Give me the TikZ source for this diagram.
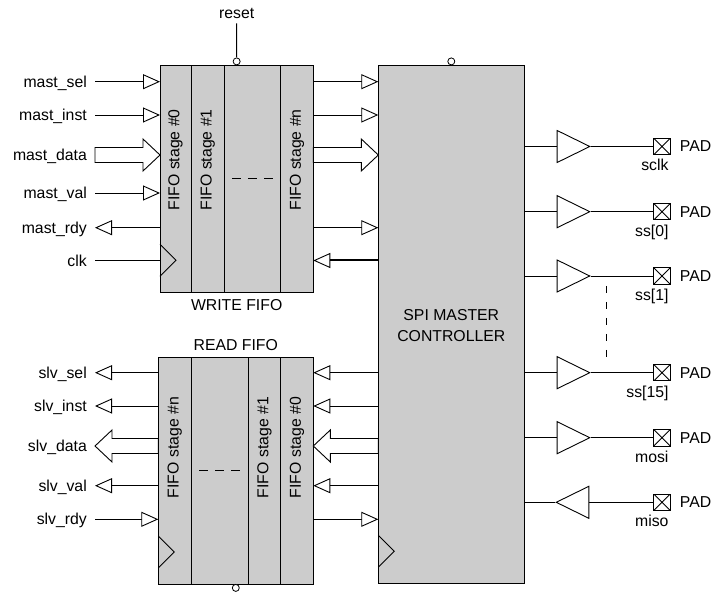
\documentclass[tikz,border=0pt]{standalone}
\usepackage{fontspec}
\setmainfont{Liberation Sans}
\usetikzlibrary{positioning,calc,arrows.meta,shapes.geometric}

% wide bus arrow from tail #1 to tip #2 (horizontal)
\newcommand\bus[2]{%
  \draw[wire, fill=white] let \p1=(#1), \p2=(#2), \n1={17*(\x2-\x1)/abs(\x2-\x1)} in
    (\x1,{\y1+7.5pt}) -- ({\x2-(\n1)*1pt},{\y1+7.5pt}) -- ({\x2-(\n1)*1pt},{\y1+16pt})
    -- (\x2,\y1) -- ({\x2-(\n1)*1pt},{\y1-16pt}) -- ({\x2-(\n1)*1pt},{\y1-7.5pt})
    -- (\x1,{\y1-7.5pt}) -- cycle;}
% clock mark in a lower left corner
\newcommand\clock[1]{\draw[wire] (#1) ++(0,-48) -- ++(16,16) -- ++(-16,16);}

\begin{document}
\begin{tikzpicture}[x=1pt, y=-1pt,
        every node/.style={font=\fontsize{15.8}{21}\selectfont},
        wire/.style={line width=0.9pt},
        >={Triangle[length=17pt,width=15pt,fill=white,line width=0.9pt]},
        stage/.style={draw, fill=black!20, line width=0.9pt, inner sep=0pt, outer sep=0pt},
        sig/.style={anchor=east, inner xsep=8pt, inner ysep=0pt, text height=11.3pt, text depth=0pt},
        txt/.style={inner sep=2pt},
        bubble/.style={circle, draw, fill=white, line width=0.8pt, minimum size=7pt, inner sep=0pt},
        buf/.style={isosceles triangle, isosceles triangle stretches, draw, fill=white, line width=0.9pt,
            minimum width=32pt, minimum height=32.6pt, inner sep=0pt},
        pad/.style={draw, line width=0.9pt, minimum size=16.5pt, inner sep=0pt, anchor=west,
            path picture={\draw (path picture bounding box.north west) -- (path picture bounding box.south east)
                (path picture bounding box.south west) -- (path picture bounding box.north east);}},
        dots/.style={wire, dash pattern=on 8.3pt off 7.7pt},
    ]
    \useasboundingbox (0,0) rectangle (728,593);

    % write fifo
    \node[stage, minimum width=31pt, minimum height=227pt, anchor=north west] (w0) at (160,65.3) {};
    \node[stage, minimum width=33.3pt, minimum height=227pt, right=0pt of w0] (w1) {};
    \node[stage, minimum width=56.4pt, minimum height=227pt, right=0pt of w1] (wd) {};
    \node[stage, minimum width=32.6pt, minimum height=227pt, right=0pt of wd] (wn) {};
    \node[rotate=90] at ([yshift=19pt]w0.center) {FIFO stage \#0};
    \node[rotate=90] at ([yshift=19pt]w1.center) {FIFO stage \#1};
    \node[rotate=90] at ([yshift=19pt]wn.center) {FIFO stage \#n};
    \draw[dots] ([xshift=-20.3pt]wd.center) -- ([xshift=20.3pt]wd.center);
    \node[txt, below=5pt] (wlbl) at ($(w0.south west)!0.5!(wn.south east)$) {WRITE FIFO};
    \node[bubble, anchor=south] (wrb) at ($(w0.north west)!0.5!(wn.north east)$) {};
    \node[txt] (rst) at (236.7,13) {reset};
    \draw[wire, shorten <=3pt] (rst) -- (wrb);
    \clock{w0.south west}

    % read fifo
    \node[stage, minimum width=32.7pt, minimum height=226.7pt, anchor=north west] (rn) at (158.3,357.3) {};
    \node[stage, minimum width=57.3pt, minimum height=226.7pt, right=0pt of rn] (rd) {};
    \node[stage, minimum width=32.4pt, minimum height=226.7pt, right=0pt of rd] (r1) {};
    \node[stage, minimum width=32.6pt, minimum height=226.7pt, right=0pt of r1] (r0) {};
    \node[rotate=90] at ([yshift=23pt]rn.center) {FIFO stage \#n};
    \node[rotate=90] at ([yshift=23pt]r1.center) {FIFO stage \#1};
    \node[rotate=90] at ([yshift=23pt]r0.center) {FIFO stage \#0};
    \draw[dots] ([xshift=-20.3pt]rd.center) -- ([xshift=20.3pt]rd.center);
    \node[txt, above=4pt] (rlbl) at ($(rn.north west)!0.5!(r0.north east)$) {READ FIFO};
    \node[bubble, anchor=north] (rdb) at ($(rn.south west)!0.5!(r0.south east)$) {};
    \clock{rn.south west}

    % controller
    \node[stage, minimum width=146pt, minimum height=518pt, anchor=north west] (ctrl) at (378.3,65.3) {};
    \node[align=center] (ctrltxt) at (451.3,325.5) {SPI MASTER\\CONTROLLER};
    \node[bubble, anchor=south] (cb) at (ctrl.north) {};
    \clock{ctrl.south west}

    % master side signals
    \node[sig] (msel) at (95,81.7) {mast\_sel};
    \node[sig] (minst) at (95,115) {mast\_inst};
    \node[sig] (mdat) at (95,155) {mast\_data};
    \node[sig] (mval) at (95,193) {mast\_val};
    \node[sig] (mrdy) at (95,227.7) {mast\_rdy};
    \node[sig] (clk) at (95,260.5) {clk};
    \draw[wire, ->] (msel.east) -- (msel -| w0.west);
    \draw[wire, ->] (minst.east) -- (minst -| w0.west);
    \bus{mdat.east}{mdat -| w0.west}
    \draw[wire, ->] (mval.east) -- (mval -| w0.west);
    \draw[wire, <-] (mrdy.east) -- (mrdy -| w0.west);
    \draw[wire] (clk.east) -- (clk -| w0.west);

    \draw[wire, ->] (msel -| wn.east) -- (msel -| ctrl.west);
    \draw[wire, ->] (minst -| wn.east) -- (minst -| ctrl.west);
    \bus{mdat -| wn.east}{mdat -| ctrl.west}
    \draw[wire, ->] (mrdy -| wn.east) -- (mrdy -| ctrl.west);
    \draw[line width=2pt, <-] (clk -| wn.east) -- (clk -| ctrl.west);

    % slave side signals
    \node[sig] (ssel) at (95,372.7) {slv\_sel};
    \node[sig] (sinst) at (95,406) {slv\_inst};
    \node[sig] (sdat) at (95,446) {slv\_data};
    \node[sig] (sval) at (95,485.7) {slv\_val};
    \node[sig] (srdy) at (95,519.3) {slv\_rdy};
    \draw[wire, <-] (ssel.east) -- (ssel -| rn.west);
    \draw[wire, <-] (sinst.east) -- (sinst -| rn.west);
    \bus{sdat -| rn.west}{sdat.east}
    \draw[wire, <-] (sval.east) -- (sval -| rn.west);
    \draw[wire, ->] (srdy.east) -- (srdy -| rn.west);

    \draw[wire, <-] (ssel -| r0.east) -- (ssel -| ctrl.west);
    \draw[wire, <-] (sinst -| r0.east) -- (sinst -| ctrl.west);
    \bus{sdat -| ctrl.west}{sdat -| r0.east}
    \draw[wire, <-] (sval -| r0.east) -- (sval -| ctrl.west);
    \draw[wire, ->] (srdy -| r0.east) -- (srdy -| ctrl.west);

    % pads
    \node[buf, anchor=west] (bsclk) at (556.7,146.5) {};
    \node[pad] (psclk) at (653.3,146.5) {};
    \node[txt, right=7pt of psclk] {PAD};
    \node[txt, anchor=north east] at ([yshift=-2pt]psclk.south east) {sclk};
    \draw[wire] (bsclk.west -| ctrl.east) -- (bsclk.west);
    \draw[wire] (bsclk.east) -- (psclk.west);

    \node[buf, anchor=west] (bss0) at (556.7,211.7) {};
    \node[pad] (pss0) at (653.3,211.7) {};
    \node[txt, right=7pt of pss0] {PAD};
    \node[txt, anchor=north east] at ([yshift=-2pt]pss0.south east) {ss[0]};
    \draw[wire] (bss0.west -| ctrl.east) -- (bss0.west);
    \draw[wire] (bss0.east) -- (pss0.west);

    \node[buf, anchor=west] (bss1) at (556.7,276) {};
    \node[pad] (pss1) at (653.3,276) {};
    \node[txt, right=7pt of pss1] {PAD};
    \node[txt, anchor=north east] at ([yshift=-2pt]pss1.south east) {ss[1]};
    \draw[wire] (bss1.west -| ctrl.east) -- (bss1.west);
    \draw[wire] (bss1.east) -- (pss1.west);

    \node[buf, anchor=west] (bss15) at (556.7,372.7) {};
    \node[pad] (pss15) at (653.3,372.7) {};
    \node[txt, right=7pt of pss15] {PAD};
    \node[txt, anchor=north east] at ([yshift=-2pt]pss15.south east) {ss[15]};
    \draw[wire] (bss15.west -| ctrl.east) -- (bss15.west);
    \draw[wire] (bss15.east) -- (pss15.west);

    \draw[wire, dash pattern=on 7pt off 9pt] (606,286) -- (606,358);

    \node[buf, anchor=west] (bmosi) at (556.7,437.7) {};
    \node[pad] (pmosi) at (653.3,437.7) {};
    \node[txt, right=7pt of pmosi] {PAD};
    \node[txt, anchor=north east] at ([yshift=-2pt]pmosi.south east) {mosi};
    \draw[wire] (bmosi.west -| ctrl.east) -- (bmosi.west);
    \draw[wire] (bmosi.east) -- (pmosi.west);

    \node[buf, shape border rotate=180, anchor=east] (bmiso) at (589.3,502.3) {};
    \node[pad] (pmiso) at (653.3,502.3) {};
    \node[txt, right=7pt of pmiso] {PAD};
    \node[txt, anchor=north east] at ([yshift=-2pt]pmiso.south east) {miso};
    \draw[wire] (bmiso.west) -- (bmiso.west -| ctrl.east);
    \draw[wire] (pmiso.west) -- (bmiso.east);

\end{tikzpicture}
\end{document}
